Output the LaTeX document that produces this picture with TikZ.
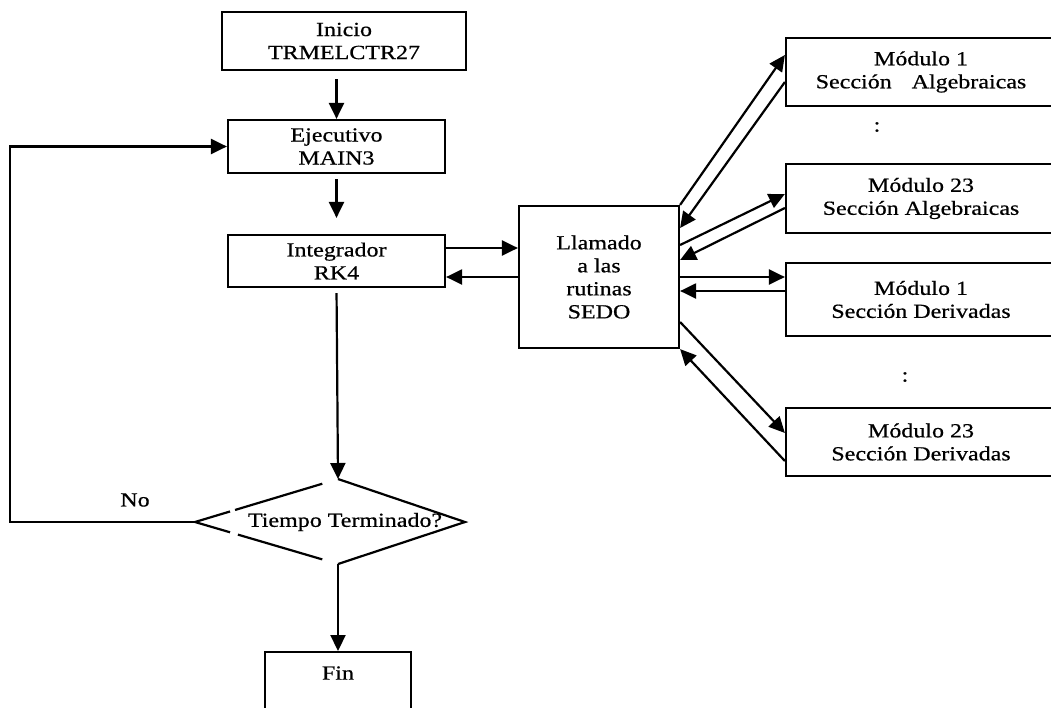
\documentclass[tikz,border=0pt]{standalone}
\usepackage{fontspec}
\setmainfont{Liberation Serif}[FakeStretch=1.2,FakeBold=0.6]
\usetikzlibrary{arrows.meta,calc}
\begin{document}
\begin{tikzpicture}[x=1pt,y=-1pt,
  line width=2.2pt,
  every node/.style={font=\fontsize{20}{23}\selectfont},
  box/.style={draw, rectangle, align=center, inner sep=0pt},
  arr/.style={-{Triangle[length=16pt,width=15pt]}},
]
\useasboundingbox (0,0) rectangle (1051,707);

% main column
\node[box, minimum width=244pt, minimum height=58pt] (ini) at (344,41) {Inicio\\TRMELCTR27};
\node[box, minimum width=217pt, minimum height=53pt] (eje) at (336.5,146.5) {Ejecutivo\\MAIN3};
\node[box, minimum width=217pt, minimum height=52pt] (int) at (336.5,261) {Integrador\\RK4};
\node[box, minimum width=160pt, minimum height=142pt] (sedo) at (599,277) {Llamado\\a las\\rutinas\\SEDO};

% modules
\node[box, minimum width=270pt, minimum height=68pt] (m1a) at (921,72) {Módulo 1\\Sección\quad Algebraicas};
\node[box, minimum width=270pt, minimum height=69pt] (m23a) at (921,198.5) {Módulo 23\\Sección Algebraicas};
\node[box, minimum width=270pt, minimum height=73pt] (m1d) at (921,299.5) {Módulo 1\\Sección Derivadas};
\node[box, minimum width=270pt, minimum height=68pt] (m23d) at (921,442) {Módulo 23\\Sección Derivadas};
\node (c1) at (877,127) {:};
\node (c2) at (905,377) {:};

% end box
\node[draw, anchor=north, minimum width=146pt, inner xsep=0pt, inner ysep=3.5pt,
      text height=24pt, text depth=38pt] (fin) at (338,651) {Fin};

% decision
\coordinate (dl) at (195,522);
\coordinate (dt) at (338,479);
\coordinate (dr) at (465,522);
\coordinate (db) at (338,564);
\draw (dl) -- ($(dl)!0.245!(dt)$)
      ($(dl)!0.28!(dt)$) -- ($(dl)!0.89!(dt)$)
      (dt) -- (dr) -- (db)
      ($(dl)!0.89!(db)$) -- ($(dl)!0.30!(db)$)
      ($(dl)!0.245!(db)$) -- (dl);
\node (dec) at (345,522) {Tiempo Terminado?};
\node (no) at (135,500) {No};

% main connectors
\draw[arr, shorten <=8pt] (eje.north |- ini.south) -- (eje.north);
\draw[arr, shorten <=5pt, shorten >=16pt] (eje.south) -- (int.north);
\draw[arr] ([yshift=13pt]int.east) -- ([yshift=29pt]sedo.west);
\draw[arr] (sedo.west) -- ([yshift=-16pt]int.east);
\draw[arr, shorten <=5pt] (int.south) -- (dt);
\draw[arr] (db) -- (fin.north);
\draw[arr] (dl) -- ++(-185,0) |- (eje.west);

% module connectors
\draw[arr] (sedo.north east) -- ([yshift=17pt]m1a.west);
\draw[arr] ([yshift=-10pt]m1a.west) -- ([yshift=49pt]sedo.east);
\draw[arr] ([yshift=32pt]sedo.east) -- ([yshift=4.5pt]m23a.west);
\draw[arr] ([yshift=-9.5pt]m23a.west) -- ([yshift=17pt]sedo.east);
\draw[arr] (sedo.east) -- ([yshift=22.5pt]m1d.west);
\draw[arr] ([yshift=8.5pt]m1d.west) -- ([yshift=-14pt]sedo.east);
\draw[arr] ([yshift=-45pt]sedo.east) -- ([yshift=9pt]m23d.west);
\draw[arr] ([yshift=-19pt]m23d.west) -- (sedo.south east);
\end{tikzpicture}
\end{document}
